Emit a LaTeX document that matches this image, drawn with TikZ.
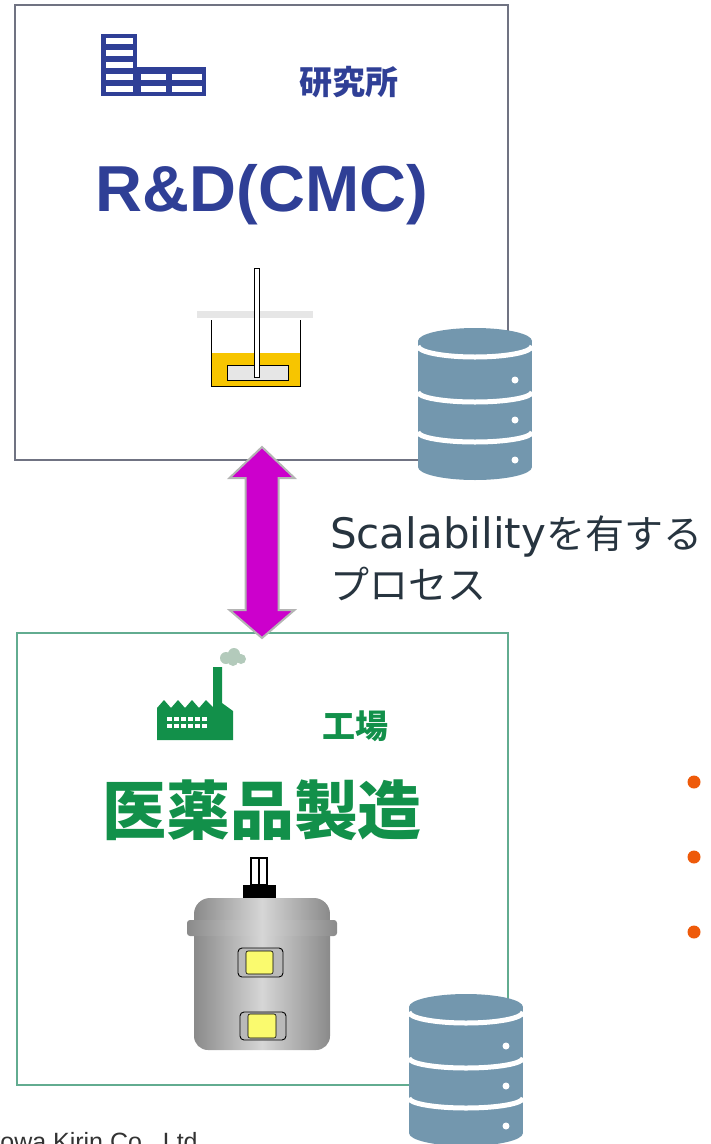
\documentclass[tikz,border=0pt]{standalone}
\usepackage{fontspec}
\setmainfont{Liberation Sans}
\newfontfamily\jp{Noto Sans CJK JP}
\newfontfamily\dejavu{DejaVu Sans}
\usetikzlibrary{calc}

\definecolor{labblue}{HTML}{2F3F96}
\definecolor{plantgreen}{HTML}{12904A}
\definecolor{dbblue}{HTML}{7397AE}
\definecolor{labframe}{HTML}{707382}
\definecolor{plantframe}{HTML}{62AC90}
\definecolor{arrowfill}{HTML}{CC00CC}
\definecolor{arrowrim}{HTML}{B4B4B4}
\definecolor{textdark}{HTML}{27343F}
\definecolor{bulletorange}{HTML}{EE5A0A}
\definecolor{liquid}{HTML}{F7C500}
\definecolor{smoke}{HTML}{B3CABB}
\definecolor{steeldark}{HTML}{8A8A8A}
\definecolor{steellight}{HTML}{D6D6D6}
\definecolor{sightglass}{HTML}{FAFA6E}
\definecolor{lidgray}{HTML}{E6E6E6}

\tikzset{
  frame/.style={rectangle, line width=1.5pt, fill=none, inner sep=0pt},
  cjklabel/.style={anchor=base, inner sep=0pt},
  bullet/.style={circle, fill=bulletorange, minimum size=13pt, inner sep=0pt},
  steel/.style={left color=steeldark, right color=steeldark, middle color=steellight},
  database/.pic={
    \fill[dbblue] (-57,0) rectangle (57,126);
    \fill[dbblue] (0,0) ellipse[x radius=57, y radius=13];
    \fill[dbblue] (0,126) ellipse[x radius=57, y radius=13];
    \begin{scope}
      \clip (-57,-14) rectangle (57,140);
      \draw[white, line width=5pt] (-57,5)  arc[start angle=180, end angle=0, x radius=57, y radius=11];
      \draw[white, line width=5pt] (-57,51) arc[start angle=180, end angle=0, x radius=57, y radius=10];
      \draw[white, line width=5pt] (-57,91) arc[start angle=180, end angle=0, x radius=57, y radius=10];
    \end{scope}
    \fill[white] (40,39) circle[radius=3.5];
    \fill[white] (40,79) circle[radius=3.5];
    \fill[white] (40,119) circle[radius=3.5];
  }
}

\begin{document}
\begin{tikzpicture}[x=1pt,y=-1pt]
\useasboundingbox (0,0) rectangle (710,1144);
\clip (0,0) rectangle (710,1144);

% ---------- research lab panel ----------
\node[frame, draw=labframe, minimum width=493pt, minimum height=455pt] (lab) at (261.5,232.5) {};

% building icon
\fill[labblue] (101,34) rectangle (137,96);
\fill[labblue] (137,67) rectangle (206,96);
\foreach \y in {38,50,62,74,86}{
  \fill[white] (105.5,\y) rectangle (132.5,\y+6);
}
\foreach \y in {74,86}{
  \fill[white] (141,\y) rectangle (166,\y+6);
  \fill[white] (172,\y) rectangle (202,\y+6);
}
\node[cjklabel, font=\jp\bfseries\fontsize{33}{33}\selectfont, text=labblue] (labname) at (349,94) {研究所};
\node[anchor=base, inner sep=0pt, font=\bfseries\fontsize{65}{65}\selectfont, text=labblue] (labtitle) at (262,211) {R\&D(CMC)};

% stirred beaker
\fill[liquid] (211,353) rectangle (300,386);
\draw[line width=1pt] (211,320) -- (211,386) -- (300,386) -- (300,320);
\fill[lidgray] (197,311) rectangle (313,318);
\draw[fill=lidgray, line width=0.8pt] (227,365) rectangle (288,380);
\draw[fill=white, line width=0.8pt] (254,268) rectangle (259,377);

% ---------- manufacturing panel ----------
\node[frame, draw=plantframe, minimum width=491pt, minimum height=452pt] (plant) at (262.5,859) {};

% factory icon
\fill[smoke] (226,658) circle[radius=6] (234,654) circle[radius=6] (241,659) circle[radius=5] (233,661) circle[radius=5];
\fill[plantgreen] (157,740) -- (157,708) -- (164,700) -- (171,708) -- (178,700) -- (185,708)
  -- (192,700) -- (199,708) -- (206,700) -- (213,707) -- (213,667) -- (222,667) -- (222,703)
  -- (233,711) -- (233,740) -- cycle;
\foreach \x in {167,174,181,188,195,202}{
  \fill[white] (\x,717) rectangle (\x+4.5,721);
  \fill[white] (\x,724) rectangle (\x+4.5,728);
}
\node[cjklabel, font=\jp\bfseries\fontsize{33}{33}\selectfont, text=plantgreen] (plantname) at (355,738) {工場};
\node[cjklabel, font=\jp\bfseries\fontsize{64}{64}\selectfont, text=plantgreen] (planttitle) at (262,834) {医薬品製造};

% production vessel
\shade[steel, rounded corners=14pt] (194,920) rectangle (330,1050);
\shade[steel, rounded corners=16pt] (194,898) rectangle (330,936);
\shade[steel, rounded corners=3pt] (187,920) rectangle (337,936);
\fill[black] (243,885) rectangle (276,898);
\draw[fill=white, line width=1.6pt] (251,858) rectangle (267,885);
\draw[line width=1.6pt] (259,858) -- (259,885);
\draw[fill=gray!55, rounded corners=4pt, line width=0.9pt] (238,948) rectangle (283,977);
\draw[fill=sightglass, rounded corners=2pt, line width=0.6pt] (246,951) rectangle (273,974);
\draw[fill=gray!55, rounded corners=4pt, line width=0.9pt] (240,1012) rectangle (286,1040);
\draw[fill=sightglass, rounded corners=2pt, line width=0.6pt] (248,1014) rectangle (276,1038);

% ---------- data stores ----------
\pic at (475,341) {database};
\pic at (466,1007) {database};

% ---------- scale-up arrow between the panels ----------
\coordinate (uptip) at (262,447);
\coordinate (downtip) at (262,638);
\filldraw[fill=arrowfill, draw=arrowrim, line width=2pt, line join=miter]
  (uptip) -- ($(uptip)+(32.5,31)$) -- ($(uptip)+(16.5,31)$) -- ($(downtip)+(16.5,-28)$)
  -- ($(downtip)+(32.5,-28)$) -- (downtip) -- ($(downtip)+(-32.5,-28)$) -- ($(downtip)+(-16.5,-28)$)
  -- ($(uptip)+(-16.5,31)$) -- ($(uptip)+(-32.5,31)$) -- cycle;

\node[anchor=base west, inner sep=0pt, text=textdark] (scal1) at (330,548)
  {{\dejavu\fontsize{42}{42}\selectfont Scalability}{\jp\fontsize{39}{39}\selectfont を有する}};
\node[anchor=base west, inner sep=0pt, text=textdark, font=\jp\fontsize{39}{39}\selectfont] (scal2) at (330,599) {プロセス};

% ---------- bullets ----------
\node[bullet] (b1) at (694,782) {};
\node[bullet] (b2) at (694,857) {};
\node[bullet] (b3) at (694,932) {};

% ---------- credit ----------
\node[anchor=base west, inner sep=0pt, text=black!80, font=\fontsize{25}{25}\selectfont] (credit) at (-29,1150) {Kyowa Kirin Co., Ltd.};
\end{tikzpicture}
\end{document}
